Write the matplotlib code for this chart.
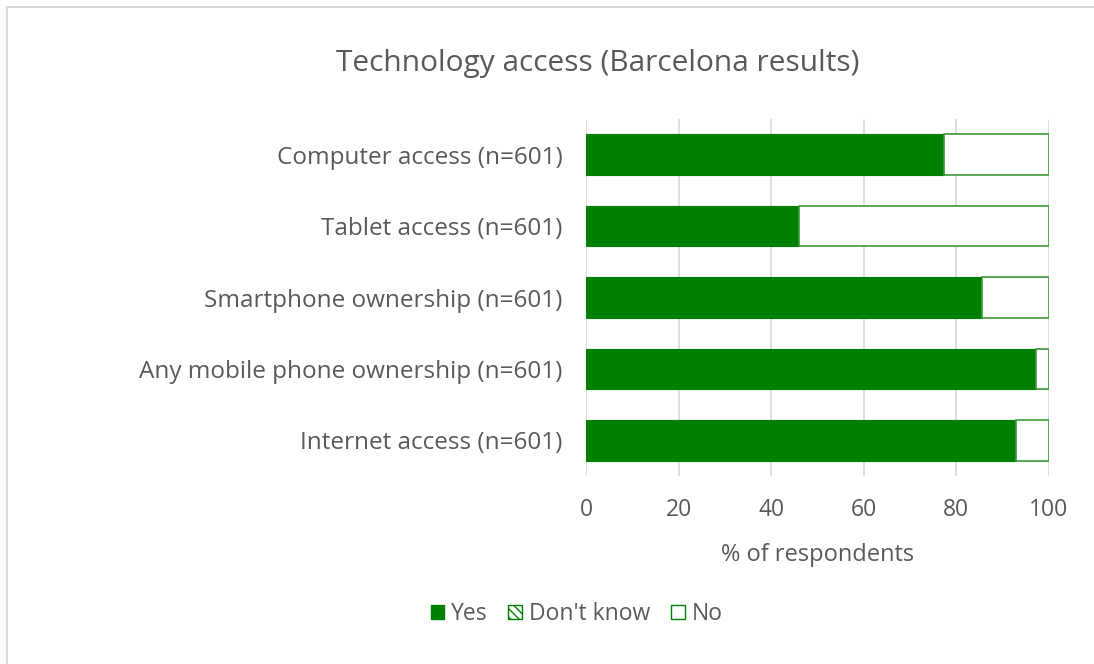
import matplotlib.pyplot as plt
from matplotlib.patches import Patch
from matplotlib.lines import Line2D

categories = [
    "Computer access (n=601)",
    "Tablet access (n=601)",
    "Smartphone ownership (n=601)",
    "Any mobile phone ownership (n=601)",
    "Internet access (n=601)",
]
yes = [77.3, 46.0, 85.5, 97.2, 92.9]
dont_know = [0.0, 0.0, 0.0, 0.0, 0.0]
no = [22.7, 54.0, 14.5, 2.8, 7.1]
x_ticks = [0, 20, 40, 60, 80, 100]

GREEN = "#008000"
TEXT = "#595959"
FONT = ["Open Sans", "DejaVu Sans"]

plt.rcParams["font.family"] = FONT

fig = plt.figure(figsize=(10.94, 6.64), dpi=100)
ax = fig.add_axes([0.5356, 0.2831, 0.4232, 0.5377])

pos = list(range(len(categories)))
h = 0.57
ax.barh(pos, yes, height=h, color=GREEN, edgecolor=GREEN, linewidth=0.8, zorder=3)
left2 = [a for a in yes]
ax.barh(pos, dont_know, left=left2, height=h, color="white", edgecolor=GREEN,
        hatch="\\\\\\\\", linewidth=0, zorder=3)
left3 = [a + b for a, b in zip(yes, dont_know)]
ax.barh(pos, no, left=left3, height=h, color="white", edgecolor="#3a9a3a",
        linewidth=1.2, zorder=3)

ax.set_ylim(len(categories) - 0.5, -0.5)
ax.set_xlim(0, 100)
ax.set_yticks(pos)
ax.set_yticklabels(categories)
ax.set_xticks(x_ticks)
ax.tick_params(axis="y", length=0, labelsize=17.5, labelcolor=TEXT, pad=17)
ax.tick_params(axis="x", length=0, labelsize=16.5, labelcolor=TEXT, pad=16)
ax.xaxis.grid(True, color="#D9D9D9", linewidth=1.2, zorder=0)
ax.set_axisbelow(True)
for s in ax.spines.values():
    s.set_visible(False)
ax.set_xlabel("% of respondents", fontsize=17, color=TEXT, labelpad=15)

fig.text(0.546, 0.905, "Technology access (Barcelona results)", ha="center",
         va="center", fontsize=21.5, color=TEXT)

handles = [
    Patch(facecolor=GREEN, edgecolor=GREEN, label="Yes"),
    Patch(facecolor="white", edgecolor=GREEN, hatch="\\\\\\\\", label="Don't know"),
    Patch(facecolor="white", edgecolor=GREEN, label="No"),
]
fig.legend(handles=handles, loc="center", bbox_to_anchor=(0.527, 0.075), ncol=3,
           frameon=False, fontsize=16.5, labelcolor=TEXT, handlelength=0.6,
           handleheight=0.6, handletextpad=0.3, columnspacing=0.9)

# chart frame
fig.add_artist(Line2D([0.0064, 1.0], [0.9895, 0.9895], color="#D9D9D9", linewidth=1.5,
                      transform=fig.transFigure))
fig.add_artist(Line2D([0.0064, 0.0064], [0.0, 0.9895], color="#D9D9D9", linewidth=1.5,
                      transform=fig.transFigure))

fig.savefig("out.png", dpi=100)
